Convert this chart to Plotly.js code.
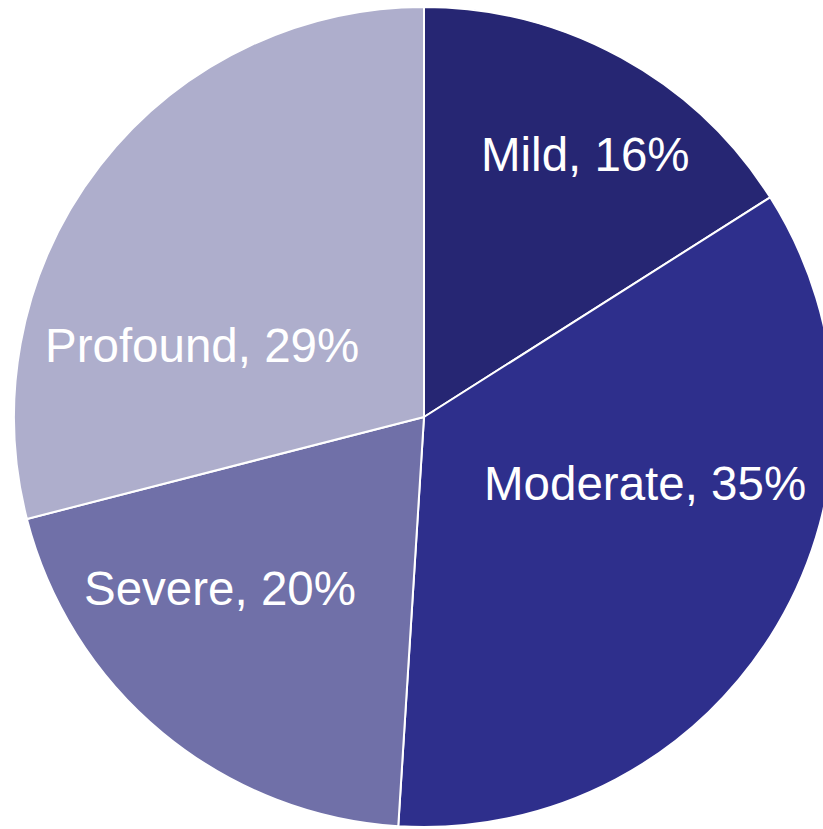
<!DOCTYPE html>
<html>
<head>
<meta charset="utf-8">
<script src="https://cdn.plot.ly/plotly-3.0.1.min.js"></script>
<style>
html, body { margin: 0; padding: 0; overflow: hidden; background: #ffffff; width: 823px; height: 829px; }
#chart { position: absolute; left: 0; top: 0; width: 848px; height: 834px; }
</style>
</head>
<body>
<div id="chart"></div>
<script>
const categories = ["Mild", "Moderate", "Severe", "Profound"];
const values = [16, 35, 20, 29];
const colors = ["#262673", "#2E2F8C", "#7070A8", "#AEAECC"];
// label anchor positions in pixels (layout only)
const labelPx = [[585, 155], [645, 484], [220, 588], [202, 345]];

const W = 848, H = 834;
const data = [{
  type: "pie",
  labels: categories,
  values: values,
  sort: false,
  direction: "clockwise",
  rotation: 0,
  textinfo: "none",
  hoverinfo: "label+percent",
  marker: { colors: colors, line: { color: "#ffffff", width: 2 } },
  domain: { x: [14 / W, 834 / W], y: [7 / H, 827 / H] },
  showlegend: false
}];

const total = values.reduce((a, b) => a + b, 0);
const annotations = categories.map((c, i) => ({
  text: c + ", " + Math.round(values[i] / total * 100) + "%",
  x: labelPx[i][0] / W,
  y: 1 - labelPx[i][1] / H,
  xref: "paper", yref: "paper",
  xanchor: "center", yanchor: "middle",
  showarrow: false,
  font: { family: "Liberation Sans, Arial, sans-serif", size: 47.5, color: "#ffffff" }
}));

const layout = {
  width: W, height: H,
  margin: { l: 0, r: 0, t: 0, b: 0, pad: 0 },
  paper_bgcolor: "#ffffff",
  plot_bgcolor: "#ffffff",
  showlegend: false,
  annotations: annotations
};

Plotly.newPlot("chart", data, layout, { displayModeBar: false, staticPlot: true });
</script>
</body>
</html>
